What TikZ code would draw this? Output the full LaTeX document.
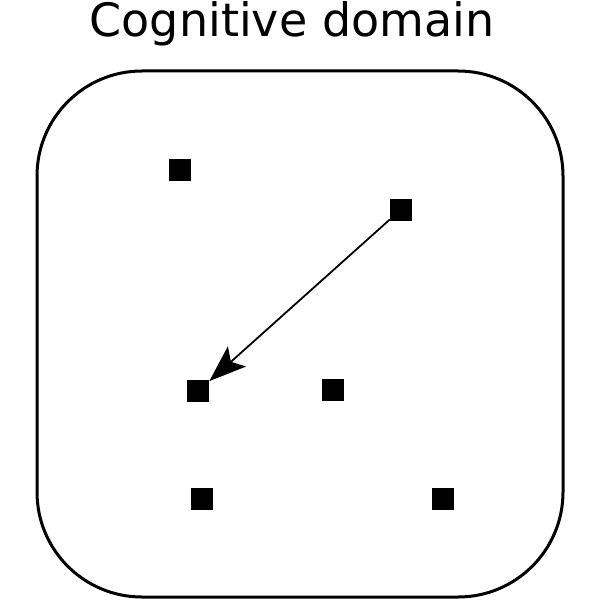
\documentclass[tikz,border=0pt]{standalone}
\usepackage{fontspec}
\setmainfont{DejaVu Sans}
\usetikzlibrary{arrows.meta}
\begin{document}
\begin{tikzpicture}[x=1bp,y=-1bp,
  sq/.style={fill=black,draw=none,minimum size=22bp,inner sep=0pt,outer sep=0pt},
  link/.style={line width=1.8bp,-{Stealth[length=37bp,width=27bp,inset=8bp]}},
  domainbox/.style={line width=3bp,rounded corners=105bp}]
\useasboundingbox (0,0) rectangle (600,600);
\node[anchor=base,font=\fontsize{46bp}{50bp}\selectfont,inner sep=0pt] (title) at (292,37) {Cognitive domain};
\draw[domainbox] (37,71) rectangle (563,597);
\node[sq] (a) at (179.5,170) {};
\node[sq] (b) at (401,209.5) {};
\node[sq] (c) at (198.3,391) {};
\node[sq] (d) at (333.3,389.5) {};
\node[sq] (e) at (201.7,499) {};
\node[sq] (f) at (443.3,499) {};
\draw[link] (b) -- (c);
\end{tikzpicture}
\end{document}
